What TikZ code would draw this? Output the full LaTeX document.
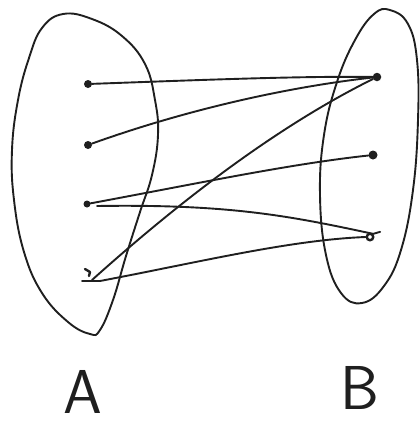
\documentclass[tikz,border=0pt]{standalone}
\usetikzlibrary{calc}
\begin{document}
\begin{tikzpicture}[x=1pt,y=-1pt,
  pen/.style={line width=1.9pt,line cap=round,line join=round,black!88},
  dotpt/.style={circle,fill=black!88,inner sep=0pt,minimum size=8pt},
  ringpt/.style={circle,draw=black!88,line width=2.4pt,inner sep=0pt,minimum width=6.5pt,minimum height=6.5pt},
  setlabel/.style={font=\fontsize{62}{62}\selectfont\sffamily,inner sep=4pt,text=black!88}]
\useasboundingbox (0,0) rectangle (420,421);
% blobs
\draw[pen] plot[smooth cycle,tension=0.7] coordinates {
 (63,14) (92,19) (122,36) (145,64) (155,100) (158,135) (152,175) (140,212)
 (126,256) (113,300) (100,330) (90,334) (68,322) (42,293) (24,252) (14,200)
 (12,150) (18,100) (29,58) (42,28)};
\draw[pen] plot[smooth cycle,tension=0.7] coordinates {
 (390,10) (408,24) (417,60) (418,120) (413,190) (401,250) (384,286) (362,303)
 (341,293) (326,255) (320,195) (324,135) (337,82) (355,40) (374,14)};
% points of A
\node[dotpt] (a1) at (88,84) {};
\node[dotpt] (a2) at (88,145) {};
\node[dotpt,minimum size=7pt] (a3) at (87,204) {};
\coordinate (a4) at (92,280);
\draw[pen,line width=2.4pt] (85,269) -- (90,272) -- (89,276);
\draw[pen] (82,281) -- (100,281);
% points of B
\node[dotpt,minimum size=8.5pt] (b1) at (377,77) {};
\node[dotpt,minimum size=9pt] (b2) at (373,155) {};
\node[ringpt] (b3) at (370,237) {};
% connectors
\draw[pen] (a1) .. controls (200,80) and (300,76) .. (b1);
\draw[pen] (a2) .. controls (180,112) and (280,88) .. (b1);
\draw[pen] (a3) .. controls (200,183) and (290,164) .. (b2);
\draw[pen] ($(a3)+(10,2)$) .. controls (230,204) and (290,216) .. (b3.north east) -- ++(7,-2);
\draw[pen] (a4) .. controls (170,210) and (270,130) .. (b1);
\draw[pen] ($(a4)+(8,1)$) .. controls (200,262) and (290,240) .. (b3.west);
% labels
\node[setlabel] (la) at (83,392) {A};
\node[setlabel] (lb) at (360,388) {B};
\end{tikzpicture}
\end{document}
